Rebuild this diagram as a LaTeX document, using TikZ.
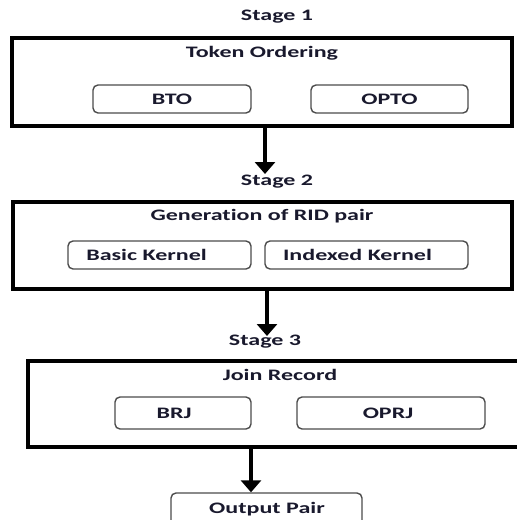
\documentclass[tikz,border=0pt]{standalone}
\usepackage{fontspec}
\setmainfont{Carlito}[FakeStretch=1.5, Ligatures=NoCommon]
\usetikzlibrary{arrows.meta}
\definecolor{ink}{RGB}{25,25,45}
\tikzset{
  stagebox/.style={draw=black, line width=3.2pt, inner sep=0pt, anchor=center},
  subbox/.style={draw=black!70, line width=1.4pt, rounded corners=5pt, inner sep=0pt, anchor=center},
  txt/.style={text=ink, font=\fontsize{16}{19}\selectfont\bfseries, inner sep=0pt, anchor=center},
  flow/.style={line width=4pt, -{Triangle[width=20pt,length=12pt]}}
}
\begin{document}
\begin{tikzpicture}[x=1pt,y=-1pt]
\useasboundingbox (0,0) rectangle (517,520);
\clip (0,0) rectangle (517,520);

% Stage 1
\node[txt] (s1) at (277,17) {Stage 1};
\node[stagebox, minimum width=500pt, minimum height=88pt] (b1) at (262,82) {};
\node[txt] (t1) at (262,53) {Token Ordering};
\node[subbox, minimum width=158pt, minimum height=28pt, label={[txt]center:BTO}] (bto) at (172,99) {};
\node[subbox, minimum width=157pt, minimum height=28pt, label={[txt]center:OPTO}] (opto) at (389.5,99) {};

% Stage 2
\node[txt] (s2) at (277,182) {Stage 2};
\node[stagebox, minimum width=499pt, minimum height=87pt] (b2) at (262.5,245.5) {};
\node[txt] (t2) at (262,216) {Generation of RID pair};
\node[subbox, minimum width=183pt, minimum height=28pt, label={[txt, xshift=-13pt]center:Basic Kernel}] (bk) at (159.5,255) {};
\node[subbox, minimum width=203pt, minimum height=28pt, label={[txt, xshift=-9pt]center:Indexed Kernel}] (ik) at (366.5,255) {};

% Stage 3
\node[txt] (s3) at (265,342) {Stage 3};
\node[stagebox, minimum width=502pt, minimum height=86pt] (b3) at (279,404) {};
\node[txt] (t3) at (280,375) {Join Record};
\node[subbox, minimum width=136pt, minimum height=32pt, label={[txt, xshift=-9pt]center:BRJ}] (brj) at (183,413) {};
\node[subbox, minimum width=188pt, minimum height=32pt, label={[txt, xshift=-3pt]center:OPRJ}] (oprj) at (391,413) {};

% Result
\node[subbox, minimum width=191pt, minimum height=34pt] (out) at (266.5,510) {};
\node[txt] (to) at (267,509) {Output Pair};

% Flow between stages
\coordinate (a1) at (265,174);
\coordinate (a2) at (267,336);
\draw[flow] (a1 |- b1.south) -- (a1);
\draw[flow] (a2 |- b2.south) -- (a2);
\draw[flow] (251,0 |- b3.south) -- (251,0 |- out.north);
\end{tikzpicture}
\end{document}
